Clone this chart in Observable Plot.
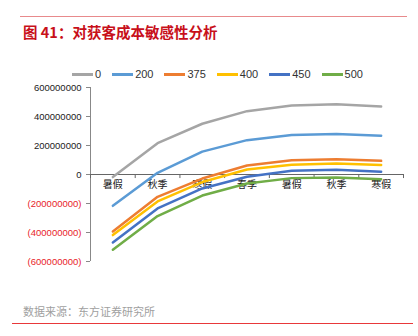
<!DOCTYPE html>
<html>
<head>
<meta charset="utf-8">
<script src="https://cdn.jsdelivr.net/npm/d3@7"></script>
<script src="https://cdn.jsdelivr.net/npm/@observablehq/plot@0.6"></script>
<style>
  html, body { margin: 0; padding: 0; background: #fff; }
  #wrap { position: relative; width: 418px; height: 336px; overflow: hidden; font-family: "Liberation Sans", Arial, "Noto Sans CJK SC", sans-serif; }
  #topline { position: absolute; left: 20px; top: 16px; width: 387px; height: 0; border-top: 1.5px solid #e88a8c; }
  #title { position: absolute; left: 23px; top: 22px; font-family: "Noto Sans CJK SC", sans-serif; font-weight: bold; font-size: 14.5px; color: #c8101a; line-height: 20px; white-space: nowrap; }
  #legend { position: absolute; left: 72px; top: 66px; display: flex; gap: 11px; font-size: 11px; color: #333; line-height: 16px; }
  #legend .item { display: flex; align-items: center; }
  #legend .sw { width: 21px; height: 3px; margin-right: 2px; }
  #chart { position: absolute; left: 0; top: 78px; }
  #caption { position: absolute; left: 23px; top: 303px; font-family: "Noto Sans CJK SC", sans-serif; font-size: 11px; color: #a0a0a0; line-height: 16px; white-space: nowrap; }
  #botline { position: absolute; left: 12px; top: 323px; width: 401px; height: 0; border-top: 1.5px solid #e8383a; }
</style>
</head>
<body>
<div id="wrap">
  <div id="topline"></div>
  <div id="title">图 41：对获客成本敏感性分析</div>
  <div id="legend"></div>
  <div id="chart"></div>
  <div id="caption">数据来源：东方证券研究所</div>
  <div id="botline"></div>
</div>
<script>
const categories = ["暑假", "秋季", "寒假", "春季", "暑假", "秋季", "寒假"];
const seriesNames = ["0", "200", "375", "400", "450", "500"];
const s0   = [-18e6, 216e6, 350e6, 437e6, 476e6, 485e6, 469e6];
const s200 = [-216e6, 12e6, 158e6, 237e6, 272e6, 279e6, 267e6];
const s375 = [-393e6, -154e6, -28e6, 62e6, 99e6, 106e6, 94e6];
const s400 = [-418e6, -186e6, -52e6, 35e6, 67e6, 76e6, 65e6];
const s450 = [-469e6, -234e6, -96e6, -16e6, 26e6, 32e6, 19e6];
const s500 = [-519e6, -287e6, -145e6, -62e6, -25e6, -21e6, -32e6];
const seriesValues = [s0, s200, s375, s400, s450, s500];
const colors = ["#a5a5a5", "#5b9bd5", "#ed7d31", "#ffc000", "#4472c4", "#70ad47"];
const yTicks = [-600e6, -400e6, -200e6, 0, 200e6, 400e6, 600e6];

// legend
const legend = document.getElementById("legend");
seriesNames.forEach((name, i) => {
  const it = document.createElement("div");
  it.className = "item";
  const sw = document.createElement("span");
  sw.className = "sw";
  sw.style.background = colors[i];
  const t = document.createElement("span");
  t.textContent = name;
  it.appendChild(sw);
  it.appendChild(t);
  legend.appendChild(it);
});

const rows = [];
seriesNames.forEach((name, si) => {
  seriesValues[si].forEach((v, i) => rows.push({series: name, idx: i, value: v}));
});
const idxs = categories.map((_, i) => i);
const bounds = [-0.5, ...idxs.map(i => i + 0.5)];
const fmt = d => d < 0 ? `(${Math.abs(d)})` : `${d}`;

const chart = Plot.plot({
  width: 418,
  height: 190,
  marginLeft: 90,
  marginRight: 15,
  marginTop: 9,
  marginBottom: 7,
  style: {fontFamily: "'Liberation Sans', Arial, sans-serif", background: "transparent"},
  x: {domain: [-0.5, categories.length - 0.5], axis: null},
  y: {domain: [-600e6, 600e6], axis: null},
  color: {domain: seriesNames, range: colors},
  marks: [
    Plot.axisY({ticks: yTicks, tickSize: 4, tickPadding: 5, tickFormat: fmt, stroke: "#888", fill: d => d < 0 ? "#e8232a" : "#222", fontSize: 9.5, label: null}),
    Plot.ruleX([-0.5], {y1: yTicks[0], y2: yTicks[yTicks.length - 1], stroke: "#888"}),
    Plot.ruleY([0], {stroke: "#666"}),
    Plot.ruleX(bounds, {x: d => d, y1: 0, y2: -28e6, stroke: "#666"}),
    Plot.text(idxs, {x: d => d, y: 0, dy: 10, text: d => categories[d], fontSize: 10, fill: "#222", fontFamily: "'Noto Sans CJK SC', sans-serif", lineAnchor: "middle"}),
    Plot.line(rows, {x: "idx", y: "value", z: "series", stroke: "series", strokeWidth: 2.5, strokeLinejoin: "round"})
  ]
});
document.getElementById("chart").appendChild(chart);
</script>
</body>
</html>
